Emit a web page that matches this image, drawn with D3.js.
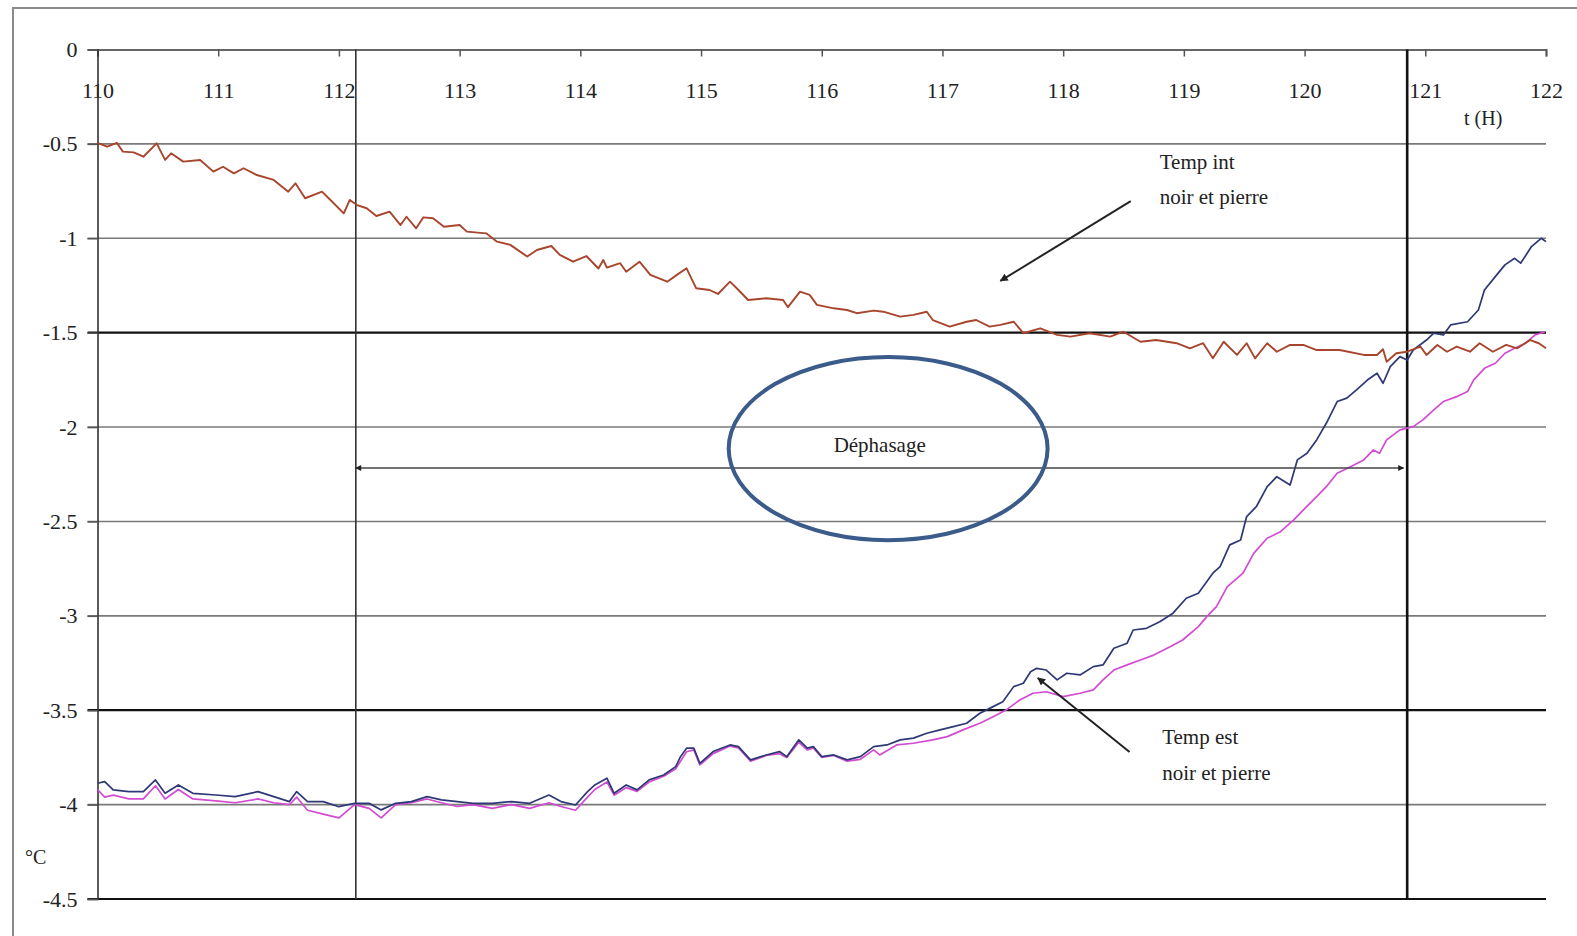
<!DOCTYPE html>
<html>
<head>
<meta charset="utf-8">
<script src="https://cdn.jsdelivr.net/npm/d3@7"></script>
<style>
  html, body { margin: 0; padding: 0; background: #fff; }
  svg { display: block; }
  text { font-family: "Liberation Serif", "DejaVu Serif", serif; fill: #222; }
</style>
</head>
<body>
<script>
// ---------- DATA ----------
const xTicks = [110, 111, 112, 113, 114, 115, 116, 117, 118, 119, 120, 121, 122];
const yTicks = [0, -0.5, -1, -1.5, -2, -2.5, -3, -3.5, -4, -4.5];
const darkGrid = [-1.5, -3.5, -4.5];

// Temp int (noir et pierre)
const hoursInt = [110.00,110.08,110.16,110.21,110.30,110.38,110.49,110.56,110.61,110.71,110.85,110.96,111.04,111.13,111.21,111.32,111.46,111.58,111.64,111.72,111.86,111.93,112.04,112.09,112.15,112.23,112.31,112.42,112.51,112.56,112.64,112.70,112.78,112.87,113.00,113.06,113.22,113.31,113.42,113.56,113.64,113.76,113.83,113.94,114.05,114.15,114.19,114.22,114.33,114.38,114.49,114.58,114.72,114.80,114.88,114.96,115.07,115.14,115.24,115.31,115.39,115.54,115.68,115.72,115.82,115.90,115.96,116.10,116.21,116.29,116.43,116.51,116.65,116.76,116.87,116.92,117.06,117.20,117.28,117.39,117.48,117.59,117.67,117.81,117.95,118.06,118.22,118.39,118.50,118.64,118.77,118.94,119.05,119.16,119.24,119.33,119.44,119.52,119.59,119.69,119.77,119.88,119.99,120.10,120.29,120.49,120.60,120.65,120.68,120.76,120.85,120.96,121.01,121.10,121.18,121.26,121.37,121.45,121.56,121.67,121.76,121.87,121.94,122.00];
const tempInt = [-0.494,-0.515,-0.494,-0.541,-0.545,-0.568,-0.497,-0.585,-0.550,-0.594,-0.585,-0.647,-0.621,-0.656,-0.629,-0.665,-0.691,-0.753,-0.709,-0.788,-0.753,-0.797,-0.868,-0.797,-0.824,-0.841,-0.882,-0.859,-0.930,-0.886,-0.947,-0.889,-0.894,-0.939,-0.930,-0.965,-0.974,-1.018,-1.035,-1.097,-1.062,-1.041,-1.088,-1.124,-1.094,-1.160,-1.115,-1.155,-1.132,-1.177,-1.124,-1.194,-1.230,-1.194,-1.159,-1.265,-1.274,-1.295,-1.230,-1.274,-1.327,-1.318,-1.327,-1.365,-1.283,-1.300,-1.353,-1.371,-1.380,-1.397,-1.383,-1.389,-1.415,-1.406,-1.389,-1.433,-1.468,-1.442,-1.433,-1.468,-1.459,-1.442,-1.503,-1.477,-1.512,-1.521,-1.503,-1.521,-1.495,-1.548,-1.539,-1.556,-1.583,-1.556,-1.636,-1.548,-1.618,-1.556,-1.636,-1.556,-1.601,-1.565,-1.565,-1.592,-1.592,-1.618,-1.618,-1.588,-1.654,-1.609,-1.601,-1.574,-1.618,-1.565,-1.601,-1.574,-1.601,-1.556,-1.601,-1.565,-1.583,-1.539,-1.556,-1.583];

// Temp est (noir) - blue
const hoursEstBlue = [110.00,110.06,110.13,110.26,110.38,110.48,110.56,110.67,110.79,110.98,111.14,111.33,111.46,111.59,111.65,111.74,111.87,112.00,112.13,112.25,112.35,112.47,112.60,112.73,112.85,112.98,113.11,113.27,113.43,113.58,113.74,113.84,113.96,114.06,114.12,114.22,114.28,114.38,114.47,114.57,114.69,114.79,114.83,114.88,114.94,114.99,115.10,115.24,115.31,115.41,115.54,115.65,115.71,115.81,115.88,115.93,116.00,116.10,116.21,116.32,116.43,116.54,116.65,116.76,116.87,116.98,117.09,117.20,117.31,117.42,117.50,117.59,117.67,117.73,117.78,117.86,117.95,118.03,118.14,118.25,118.33,118.42,118.53,118.58,118.69,118.80,118.91,119.02,119.12,119.24,119.30,119.38,119.47,119.52,119.60,119.69,119.77,119.88,119.94,120.02,120.10,120.18,120.27,120.35,120.43,120.52,120.60,120.65,120.71,120.79,120.85,120.90,121.01,121.07,121.15,121.21,121.35,121.44,121.49,121.58,121.66,121.74,121.79,121.88,121.96,122.00];
const tempEstBlue = [-3.887,-3.878,-3.922,-3.931,-3.931,-3.869,-3.940,-3.896,-3.940,-3.949,-3.958,-3.931,-3.958,-3.984,-3.931,-3.984,-3.984,-4.011,-3.993,-3.993,-4.028,-3.993,-3.984,-3.958,-3.975,-3.984,-3.993,-3.993,-3.984,-3.993,-3.949,-3.984,-4.002,-3.931,-3.896,-3.860,-3.940,-3.896,-3.922,-3.869,-3.843,-3.799,-3.746,-3.701,-3.701,-3.781,-3.719,-3.684,-3.693,-3.763,-3.737,-3.719,-3.746,-3.657,-3.701,-3.693,-3.746,-3.737,-3.763,-3.746,-3.693,-3.684,-3.657,-3.648,-3.622,-3.604,-3.587,-3.569,-3.516,-3.481,-3.455,-3.375,-3.357,-3.296,-3.278,-3.287,-3.339,-3.304,-3.313,-3.269,-3.260,-3.172,-3.145,-3.075,-3.066,-3.031,-2.986,-2.907,-2.880,-2.774,-2.739,-2.624,-2.598,-2.474,-2.422,-2.316,-2.263,-2.307,-2.174,-2.139,-2.068,-1.980,-1.865,-1.847,-1.803,-1.751,-1.715,-1.768,-1.680,-1.627,-1.645,-1.592,-1.539,-1.503,-1.512,-1.459,-1.442,-1.380,-1.274,-1.203,-1.141,-1.106,-1.132,-1.044,-1.000,-1.018];

// Temp est (pierre) - magenta
const hoursEstPink = [110.00,110.06,110.13,110.26,110.38,110.48,110.56,110.67,110.79,110.98,111.14,111.33,111.46,111.59,111.65,111.74,111.87,112.00,112.13,112.25,112.35,112.47,112.60,112.73,112.85,112.98,113.11,113.27,113.43,113.58,113.74,113.84,113.96,114.06,114.12,114.22,114.28,114.38,114.47,114.57,114.69,114.79,114.88,114.94,114.99,115.10,115.24,115.31,115.41,115.54,115.65,115.71,115.81,115.88,115.93,116.00,116.10,116.21,116.32,116.43,116.48,116.62,116.76,116.92,117.04,117.17,117.31,117.42,117.53,117.64,117.75,117.86,118.00,118.14,118.25,118.33,118.42,118.53,118.64,118.75,118.89,118.99,119.12,119.19,119.27,119.36,119.49,119.58,119.69,119.80,119.91,119.99,120.10,120.18,120.27,120.38,120.49,120.57,120.62,120.68,120.79,120.90,120.98,121.07,121.15,121.26,121.35,121.40,121.49,121.58,121.66,121.74,121.83,121.91,121.99];
const tempEstPink = [-3.92,-3.96,-3.95,-3.97,-3.97,-3.90,-3.97,-3.92,-3.97,-3.98,-3.99,-3.97,-3.99,-4.00,-3.96,-4.03,-4.05,-4.07,-4.00,-4.02,-4.07,-4.00,-3.99,-3.97,-3.99,-4.01,-4.00,-4.02,-4.00,-4.02,-3.99,-4.01,-4.03,-3.96,-3.92,-3.88,-3.95,-3.91,-3.93,-3.88,-3.85,-3.81,-3.72,-3.71,-3.79,-3.73,-3.69,-3.70,-3.77,-3.74,-3.73,-3.75,-3.67,-3.71,-3.70,-3.75,-3.74,-3.77,-3.76,-3.71,-3.737,-3.684,-3.675,-3.657,-3.640,-3.604,-3.569,-3.534,-3.498,-3.446,-3.410,-3.402,-3.428,-3.410,-3.392,-3.339,-3.287,-3.260,-3.234,-3.208,-3.163,-3.128,-3.057,-3.004,-2.951,-2.845,-2.774,-2.668,-2.589,-2.554,-2.492,-2.439,-2.369,-2.316,-2.245,-2.210,-2.174,-2.121,-2.139,-2.068,-2.015,-1.998,-1.962,-1.909,-1.865,-1.839,-1.812,-1.751,-1.689,-1.662,-1.609,-1.583,-1.556,-1.512,-1.495];

// Annotation texts and reference times
const phaseTimes = [112.14, 120.85];
const labelInt = ["Temp int", "noir et pierre"];
const labelEst = ["Temp est", "noir et pierre"];
const labelPhase = "Déphasage";
const labelX = "t (H)";
const labelY = "°C";

// ---------- CHART ----------
const W = 1577, H = 936;
const svg = d3.select("body").append("svg").attr("width", W).attr("height", H);
svg.append("rect").attr("width", W).attr("height", H).attr("fill", "#fff");

const x = d3.scaleLinear().domain([110, 122]).range([97.5, 1546]);
const y = d3.scaleLinear().domain([0, -4.5]).range([49.5, 899]);

// outer frame (document border)
svg.append("path").attr("d", `M13,936 V8 H${W}`).attr("fill", "none").attr("stroke", "#8a8a8a").attr("stroke-width", 2);

// horizontal gridlines
svg.append("g").selectAll("line").data(yTicks.filter(d => d !== 0)).join("line")
  .attr("x1", x(110) - 10).attr("x2", x(122))
  .attr("y1", d => y(d)).attr("y2", d => y(d))
  .attr("stroke", d => darkGrid.includes(d) ? "#111" : "#7a7a7a")
  .attr("stroke-width", d => darkGrid.includes(d) ? 2.2 : 1.6);

// axes
const xAxis = d3.axisBottom(x).tickValues(xTicks).tickSize(7).tickFormat(d3.format("d"));
const gx = svg.append("g").attr("transform", `translate(0,${y(0)})`).call(xAxis);
gx.select(".domain").attr("stroke", "#666").attr("stroke-width", 2);
gx.selectAll(".tick line").attr("stroke", "#555").attr("stroke-width", 1.5);
gx.selectAll(".tick text").attr("y", 41).attr("dy", "0.35em")
  .style("font-size", "22px").style("font-family", "'Liberation Serif', serif").attr("fill", "#333");

const yAxis = d3.axisLeft(y).tickValues(yTicks).tickSize(10).tickPadding(10).tickFormat(d => String(d));
const gy = svg.append("g").attr("transform", `translate(${x(110)},0)`).call(yAxis);
gy.select(".domain").attr("stroke", "#333").attr("stroke-width", 1.6);
gy.selectAll(".tick line").attr("stroke", "#555").attr("stroke-width", 1.5);
gy.selectAll(".tick text").style("font-size", "22px").style("font-family", "'Liberation Serif', serif").attr("fill", "#333");

// vertical phase lines
svg.append("g").selectAll("line").data(phaseTimes).join("line")
  .attr("x1", d => x(d)).attr("x2", d => x(d))
  .attr("y1", y(0)).attr("y2", y(-4.5))
  .attr("stroke", (d, i) => i === 0 ? "#333" : "#111")
  .attr("stroke-width", (d, i) => i === 0 ? 1.6 : 2.6);

// series
const line = d3.line().x(d => x(d[0])).y(d => y(d[1]));
const series = [
  { h: hoursEstPink, v: tempEstPink, color: "#d24bd2", w: 1.7 },
  { h: hoursEstBlue, v: tempEstBlue, color: "#2e3875", w: 1.7 },
  { h: hoursInt, v: tempInt, color: "#a8452c", w: 1.9 }
];
series.forEach(s => {
  svg.append("path").datum(d3.zip(s.h, s.v)).attr("d", line)
    .attr("fill", "none").attr("stroke", s.color).attr("stroke-width", s.w).attr("stroke-linejoin", "round");
});

// markers
const defs = svg.append("defs");
defs.append("marker").attr("id", "ah").attr("viewBox", "0 0 10 10").attr("refX", 9).attr("refY", 5)
  .attr("markerWidth", 11).attr("markerHeight", 8).attr("markerUnits", "userSpaceOnUse").attr("orient", "auto")
  .append("path").attr("d", "M0,0 L10,5 L0,10 z").attr("fill", "#222");
defs.append("marker").attr("id", "ahs").attr("viewBox", "0 0 10 10").attr("refX", 9).attr("refY", 5)
  .attr("markerWidth", 8).attr("markerHeight", 6).attr("markerUnits", "userSpaceOnUse").attr("orient", "auto-start-reverse")
  .append("path").attr("d", "M0,0 L10,5 L0,10 z").attr("fill", "#222");

// Déphasage double arrow
svg.append("line").attr("x1", x(phaseTimes[0])).attr("x2", x(120.82))
  .attr("y1", y(-2.217)).attr("y2", y(-2.217))
  .attr("stroke", "#444").attr("stroke-width", 1.6)
  .attr("marker-start", "url(#ahs)").attr("marker-end", "url(#ahs)");

// ellipse
svg.append("ellipse").attr("cx", x(116.55)).attr("cy", y(-2.114))
  .attr("rx", x(116.55 + 1.321) - x(116.55)).attr("ry", y(-2.114 - 0.485) - y(-2.114))
  .attr("fill", "none").attr("stroke", "#3b5b8a").attr("stroke-width", 4);

svg.append("text").attr("x", x(116.48)).attr("y", y(-2.095)).attr("dy", "0.35em")
  .attr("text-anchor", "middle").style("font-size", "21px").text(labelPhase);

// Temp int annotation
svg.append("line").attr("x1", x(118.56)).attr("y1", y(-0.803)).attr("x2", x(117.48)).attr("y2", y(-1.226))
  .attr("stroke", "#222").attr("stroke-width", 2).attr("marker-end", "url(#ah)");
svg.append("g").selectAll("text").data(labelInt).join("text")
  .attr("x", x(118.80)).attr("y", (d, i) => y(i === 0 ? -0.596 : -0.781)).attr("dy", "0.35em")
  .style("font-size", "21px").text(d => d);

// Temp est annotation
svg.append("line").attr("x1", x(118.55)).attr("y1", y(-3.721)).attr("x2", x(117.79)).attr("y2", y(-3.329))
  .attr("stroke", "#222").attr("stroke-width", 2).attr("marker-end", "url(#ah)");
svg.append("g").selectAll("text").data(labelEst).join("text")
  .attr("x", x(118.82)).attr("y", (d, i) => y(i === 0 ? -3.641 : -3.832)).attr("dy", "0.35em")
  .style("font-size", "21px").text(d => d);

// axis labels
svg.append("text").attr("x", x(121.48)).attr("y", y(-0.363)).attr("dy", "0.35em")
  .attr("text-anchor", "middle").style("font-size", "20px").text(labelX);
svg.append("text").attr("x", x(109.40)).attr("y", y(-4.277)).attr("dy", "0.35em")
  .style("font-size", "20px").text(labelY);
</script>
</body>
</html>
